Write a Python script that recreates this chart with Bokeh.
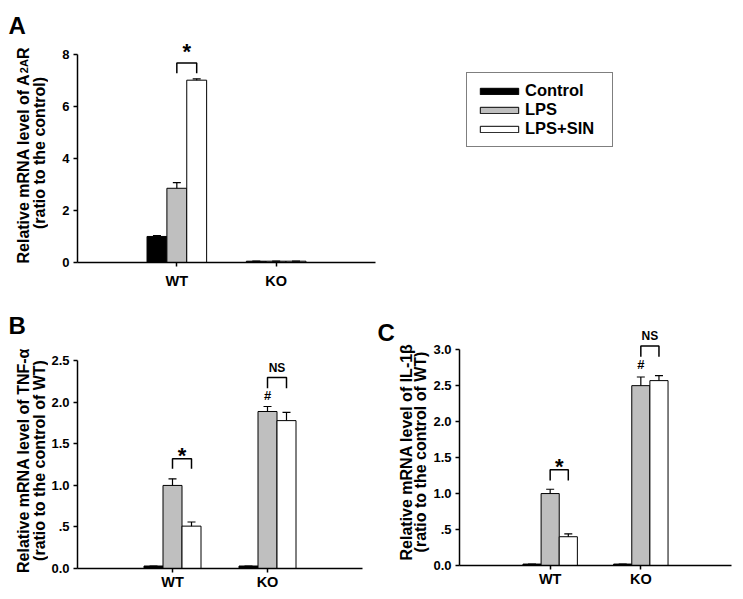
from math import pi
from bokeh.plotting import figure
from bokeh.models import (Range1d, FixedTicker, Label, Legend, LegendItem,
                          Whisker, TeeHead, ColumnDataSource)
from bokeh.layouts import column, row
from bokeh.transform import dodge
from bokeh.embed import file_html
from bokeh.resources import INLINE
from bokeh.core.properties import value

FONT = "Liberation Sans"

# ---------------- data ----------------
groups = ["WT", "KO"]
group_pos = [1, 2]
series_names = ["Control", "LPS", "LPS+SIN"]
series_colors = ["#000000", "#bfbfbf", "#ffffff"]

# Panel A : A2AR
a_control = [1.00, 0.05]
a_control_err = [0.03, 0.0]
a_lps = [2.85, 0.05]
a_lps_err = [0.22, 0.0]
a_sin = [7.00, 0.05]
a_sin_err = [0.05, 0.0]
a_yticks = [0, 2, 4, 6, 8]
a_ytick_labels = ["0", "2", "4", "6", "8"]
a_br_group = [1]
a_br_low = [7.27]
a_br_high = [7.66]
a_br_text = ["*"]
a_br_text_y = [8.30]

# Panel B : TNF-alpha
b_control = [0.03, 0.03]
b_control_err = [0.0, 0.0]
b_lps = [1.00, 1.89]
b_lps_err = [0.08, 0.06]
b_sin = [0.51, 1.78]
b_sin_err = [0.05, 0.10]
b_yticks = [0, 0.5, 1.0, 1.5, 2.0, 2.5]
b_ytick_labels = ["0.0", ".5", "1.0", "1.5", "2.0", "2.5"]
b_br_group = [1, 2]
b_br_low = [1.20, 2.17]
b_br_high = [1.32, 2.30]
b_br_text = ["*", "NS"]
b_br_text_y = [1.42, 2.41]
b_hash_group = [2]
b_hash_y = [2.08]

# Panel C : IL-1beta
c_control = [0.02, 0.02]
c_control_err = [0.0, 0.0]
c_lps = [1.00, 2.50]
c_lps_err = [0.06, 0.12]
c_sin = [0.40, 2.57]
c_sin_err = [0.04, 0.07]
c_yticks = [0, 0.5, 1.0, 1.5, 2.0, 2.5, 3.0]
c_ytick_labels = ["0.0", ".5", "1.0", "1.5", "2.0", "2.5", "3.0"]
c_br_group = [1, 2]
c_br_low = [1.18, 2.90]
c_br_high = [1.33, 3.05]
c_br_text = ["*", "NS"]
c_br_text_y = [1.44, 3.19]
c_hash_group = [2]
c_hash_y = [2.80]

BAR_W = 0.2
OFFSETS = [-0.2, 0.0, 0.2]


def make_panel(width, height, mb, xend, yend, ybound, yticks, ylabels, xstandoff):
    p = figure(width=width, height=height, x_range=Range1d(0, xend), y_range=Range1d(0, yend),
               output_backend="svg", toolbar_location=None, frame_align=False,
               min_border_left=mb[0], min_border_right=mb[1],
               min_border_top=mb[2], min_border_bottom=mb[3])
    p.outline_line_color = None
    p.xgrid.visible = False
    p.ygrid.visible = False
    p.background_fill_color = "white"
    p.border_fill_color = "white"
    for ax in (p.xaxis[0], p.yaxis[0]):
        ax.axis_line_width = 1.5
        ax.axis_line_color = "black"
        ax.major_tick_line_width = 1.5
        ax.major_tick_line_color = "black"
        ax.major_tick_in = 0
        ax.major_tick_out = 4
        ax.minor_tick_line_color = None
        ax.major_label_text_font = FONT
        ax.major_label_text_font_style = "bold"
        ax.major_label_text_color = "black"
    p.xaxis.ticker = FixedTicker(ticks=group_pos)
    p.xaxis.major_label_overrides = {g: n for g, n in zip(group_pos, groups)}
    p.xaxis.major_label_text_font_size = "14.5px"
    p.xaxis.major_label_standoff = xstandoff
    p.xaxis.bounds = (0, 3)
    p.yaxis.ticker = FixedTicker(ticks=yticks)
    p.yaxis.major_label_overrides = {t: l for t, l in zip(yticks, ylabels)}
    p.yaxis.major_label_text_font_size = "13px"
    p.yaxis.major_label_standoff = 4
    p.yaxis.bounds = (0, ybound)
    return p


def make_label_fig(width, height):
    p = figure(width=width, height=height, x_range=Range1d(0, width), y_range=Range1d(0, height),
               output_backend="svg", toolbar_location=None, min_border=0, frame_align=False,
               x_axis_location=None, y_axis_location=None)
    p.outline_line_color = None
    p.xgrid.visible = False
    p.ygrid.visible = False
    return p


def add_bars(p, vals, errs):
    rends = []
    for (v, e), off, col in zip(zip(vals, errs), OFFSETS, series_colors):
        src = ColumnDataSource(dict(x=group_pos, y=v, upper=[a + b for a, b in zip(v, e)]))
        r = p.vbar(x=dodge("x", off), top="y", width=BAR_W, source=src,
                   fill_color=col, line_color="black", line_width=1)
        w = Whisker(base=dodge("x", off), upper="upper", lower="y", source=src,
                    dimension="height", lower_head=None,
                    upper_head=TeeHead(size=8, line_width=1.2, line_color="black"),
                    line_width=1.2, line_color="black", level="annotation")
        p.add_layout(w)
        rends.append(r)
    return rends


def add_brackets(p, bg, lo, hi, txt, ty, hash_g=None, hash_y=None):
    xs = [[g, g, g + 0.2, g + 0.2] for g in bg]
    ys = [[l, h, h, l] for l, h in zip(lo, hi)]
    p.multi_line(xs=xs, ys=ys, line_color="black", line_width=1.5)
    for g, t, y in zip(bg, txt, ty):
        if t == "*":
            p.text(x=[g + 0.1], y=[y], text=[t], text_align="center", text_baseline="middle",
                   text_font=value(FONT), text_font_style="bold", text_font_size="22px",
                   text_color="black", y_offset=5)
        else:
            p.text(x=[g + 0.1], y=[y], text=[t], text_align="center", text_baseline="middle",
                   text_font=value(FONT), text_font_style="bold", text_font_size="12px",
                   text_color="black")
    if hash_g is not None:
        p.text(x=hash_g, y=hash_y, text=["#"] * len(hash_g), text_align="center",
               text_baseline="middle", text_font=value(FONT), text_font_style="bold",
               text_font_size="13px", text_color="black")


def lab(p, x, y, text, size="16px", angle=pi / 2, align="center", baseline="alphabetic"):
    p.add_layout(Label(x=x, y=y, text=text,
                       angle=angle, text_align=align, text_baseline=baseline,
                       text_font=FONT, text_font_style="bold", text_font_size=size,
                       text_color="black"))


# ---------------- Panel A (page rows 0..300) ----------------
la = make_label_fig(48, 300)
lab(la, 8, 300 - 25, "A", size="24px", angle=0, align="left")
lab(la, 23.3, 300 - 263, "Relative mRNA level of A", align="left")
lab(la, 23.3, 300 - 72.7, "2A", size="11px", align="left")
lab(la, 23.3, 300 - 58.6, "R", align="left")
lab(la, 38.5, 300 - 152.5, "(ratio to the control)")

pa = make_panel(695, 300, (29, 0, 38, 38), 6.705, 8.6, 8, a_yticks, a_ytick_labels, 6)
ra = add_bars(pa, [a_control, a_lps, a_sin], [a_control_err, a_lps_err, a_sin_err])
add_brackets(pa, a_br_group, a_br_low, a_br_high, a_br_text, a_br_text_y)
legend = Legend(items=[LegendItem(label=n, renderers=[r]) for n, r in zip(series_names, ra)],
                location=(389, 115), orientation="vertical",
                glyph_width=48, glyph_height=8, label_height=19, label_width=79,
                label_standoff=2, padding=8, spacing=0, margin=0,
                label_text_font=FONT, label_text_font_style="bold",
                label_text_font_size="16.5px", label_text_color="black",
                border_line_color="black", border_line_width=1,
                background_fill_color="white", background_fill_alpha=1)
pa.add_layout(legend)

# ---------------- Panel B (page rows 300..599) ----------------
lb = make_label_fig(48, 299)
lab(lb, 8, 599 - 325, "B", size="24px", angle=0, align="left")
lab(lb, 23.3, 599 - 460, "Relative mRNA level of TNF-α")
lab(lb, 38.5, 599 - 460, "(ratio to the control of WT)")

pb = make_panel(322, 299, (29, 8, 52, 31), 3, 2.6, 2.5, b_yticks, b_ytick_labels, 1)
add_bars(pb, [b_control, b_lps, b_sin], [b_control_err, b_lps_err, b_sin_err])
add_brackets(pb, b_br_group, b_br_low, b_br_high, b_br_text, b_br_text_y, b_hash_group, b_hash_y)

# ---------------- Panel C ----------------
lc = make_label_fig(60, 299)
lab(lc, 377 - 370, 599 - 332, "C", size="24px", angle=0, align="left")
lab(lc, 406 - 370, 599 - 451.5, "Relative mRNA level of IL-1β")
lab(lc, 420 - 370, 599 - 451.5, "(ratio to the control of WT)")

pc = make_panel(313, 299, (27, 12, 24, 34), 3, 3.35, 3.0, c_yticks, c_ytick_labels, 1)
add_bars(pc, [c_control, c_lps, c_sin], [c_control_err, c_lps_err, c_sin_err])
add_brackets(pc, c_br_group, c_br_low, c_br_high, c_br_text, c_br_text_y, c_hash_group, c_hash_y)

layout = column(row(la, pa, spacing=0), row(lb, pb, lc, pc, spacing=0), spacing=0)
open("out.html", "w").write(file_html(layout, INLINE))
